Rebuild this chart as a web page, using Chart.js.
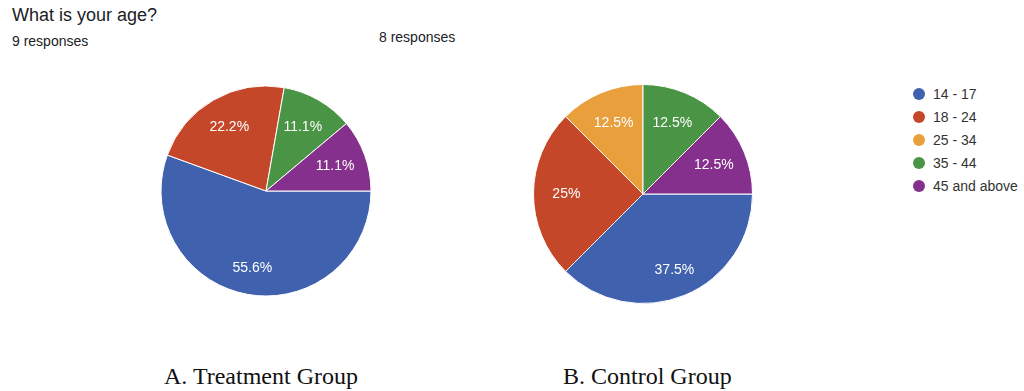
<!DOCTYPE html>
<html>
<head>
<meta charset="utf-8">
<script src="https://cdn.jsdelivr.net/npm/chart.js@4/dist/chart.umd.min.js"></script>
<style>
  html, body { margin: 0; padding: 0; background: #fff; }
  body { width: 1024px; height: 391px; position: relative; overflow: hidden;
         font-family: "Liberation Sans", Arial, sans-serif; color: #202124; }
  .abs { position: absolute; white-space: nowrap; }
  #title { left: 12px; top: 4px; font-size: 18px; line-height: 22px; color: #202124; }
  .resp { font-size: 14px; line-height: 16px; color: #202124; }
  .cap { font-family: "Liberation Serif", "Times New Roman", serif; font-size: 24px; line-height: 26px; color: #111; }
  #legend { left: 913px; top: 82px; }
  .li { height: 23.2px; display: flex; align-items: center; font-size: 14px; color: #333; }
  .dot { width: 12px; height: 12px; border-radius: 50%; margin-right: 8px; }
  canvas { position: absolute; }
</style>
</head>
<body>
<div id="title" class="abs">What is your age?</div>
<div class="abs resp" style="left:12px; top:33px;">9 responses</div>
<div class="abs resp" style="left:379px; top:29px;">8 responses</div>

<canvas id="pieA" width="220" height="220" style="left:155.5px; top:81px;"></canvas>
<canvas id="pieB" width="230" height="230" style="left:527.5px; top:78.5px;"></canvas>

<div id="legend" class="abs"></div>

<div class="abs cap" style="left:164px; top:363px;">A. Treatment Group</div>
<div class="abs cap" style="left:563px; top:363px;">B. Control Group</div>

<script>
// Age brackets and response counts per group
const ageGroups = ['14 - 17', '18 - 24', '25 - 34', '35 - 44', '45 and above'];
const treatmentCounts = [5, 2, 0, 1, 1];
const controlCounts = [3, 2, 1, 1, 1];
const sliceColors = ['#4062ae', '#c4472a', '#e99f3c', '#4a9446', '#86308d'];

// Percent labels drawn inside each slice
const sliceLabels = {
  id: 'sliceLabels',
  afterDatasetsDraw(chart) {
    const ctx = chart.ctx;
    const data = chart.data.datasets[0].data;
    const total = data.reduce((a, b) => a + b, 0);
    const meta = chart.getDatasetMeta(0);
    ctx.save();
    ctx.fillStyle = '#ffffff';
    ctx.font = '14px "Liberation Sans", Arial, sans-serif';
    ctx.textAlign = 'center';
    ctx.textBaseline = 'middle';
    meta.data.forEach((arc, i) => {
      if (!data[i]) return;
      const p = arc.getProps(['x', 'y', 'startAngle', 'endAngle', 'outerRadius'], true);
      const mid = (p.startAngle + p.endAngle) / 2;
      const share = data[i] / total;
      const d = p.outerRadius * (share > 0.3 ? 0.75 : 0.7);
      const pct = parseFloat((share * 100).toFixed(1)) + '%';
      ctx.fillText(pct, p.x + Math.cos(mid) * d, p.y + Math.sin(mid) * d);
    });
    ctx.restore();
  }
};

function makePie(id, counts, radius) {
  return new Chart(document.getElementById(id), {
    type: 'pie',
    data: {
      labels: ageGroups,
      datasets: [{
        data: counts,
        backgroundColor: sliceColors,
        borderColor: '#ffffff',
        borderWidth: 1
      }]
    },
    options: {
      responsive: false,
      animation: false,
      devicePixelRatio: 1,
      rotation: 90,
      radius: radius,
      layout: { padding: 0 },
      plugins: { legend: { display: false }, tooltip: { enabled: false } }
    },
    plugins: [sliceLabels]
  });
}

makePie('pieA', treatmentCounts, 105);
makePie('pieB', controlCounts, 109.5);

// Legend list
const legend = document.getElementById('legend');
ageGroups.forEach((name, i) => {
  const row = document.createElement('div');
  row.className = 'li';
  const dot = document.createElement('span');
  dot.className = 'dot';
  dot.style.background = sliceColors[i];
  row.appendChild(dot);
  row.appendChild(document.createTextNode(name));
  legend.appendChild(row);
});
</script>
</body>
</html>
